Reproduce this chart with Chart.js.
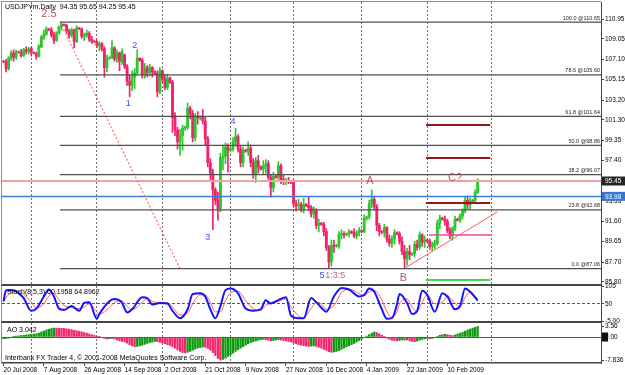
<!DOCTYPE html>
<html>
<head>
<meta charset="utf-8">
<script src="https://cdn.jsdelivr.net/npm/chart.js@4.4.1/dist/chart.umd.min.js"></script>
<style>
  html, body { margin: 0; padding: 0; background: #ffffff; }
  #wrap { position: relative; width: 625px; height: 375px; overflow: hidden; }
  #wrap canvas { position: absolute; left: 0; top: 0; }
</style>
</head>
<body>
<div id="wrap">
  <canvas id="main" width="625" height="375"></canvas>
  <canvas id="stoch" width="625" height="375"></canvas>
  <canvas id="ao" width="625" height="375"></canvas>
</div>
<script>
// daily bars, 20 Jul 2008 .. 24 Feb 2009 (index = bar number)
const opens = [106.90,106.85,106.20,107.20,107.70,107.30,107.80,107.75,107.45,108.00,
  107.85,108.10,107.75,107.65,107.40,108.30,109.20,109.50,110.00,109.90,
  109.40,108.90,109.60,110.20,110.45,110.35,109.80,109.40,109.90,108.80,
  110.10,110.00,109.30,109.40,109.60,109.00,108.80,108.75,108.40,108.60,
  108.10,106.30,107.20,107.25,108.20,107.10,107.70,106.90,107.50,106.40,
  105.00,104.60,105.40,105.80,107.20,107.00,105.60,106.30,105.80,106.30,
  105.90,105.70,104.00,106.00,105.20,104.40,105.30,104.90,101.60,100.30,
  99.20,99.80,100.50,100.60,102.40,101.90,99.60,101.60,101.50,101.60,
  101.20,99.50,97.20,96.20,94.60,93.60,92.80,97.70,97.80,98.70,
  98.40,98.50,99.20,99.70,98.50,97.20,98.40,98.30,98.60,97.20,
  96.10,97.40,96.80,96.60,96.90,97.10,95.80,94.80,95.90,95.80,
  96.90,95.60,95.40,95.50,95.40,95.30,93.30,93.10,93.20,92.80,
  93.20,93.10,92.90,92.30,92.60,91.20,91.40,91.30,90.60,89.10,
  87.70,89.30,89.20,89.30,90.30,90.40,90.30,90.40,90.60,90.50,
  90.20,90.50,90.70,90.60,91.90,92.00,93.30,93.70,93.00,91.20,
  90.60,90.55,91.00,89.90,89.50,89.90,90.50,90.40,89.70,88.70,
  88.00,88.70,88.40,88.50,89.40,89.10,90.30,89.60,89.80,89.70,
  89.20,89.30,89.50,91.40,91.90,91.80,91.60,90.70,90.20,90.90,
  91.80,91.70,92.10,92.60,93.60,93.20,93.50,93.60,94.35];
const highs = [107.00,107.10,107.35,107.90,108.00,107.95,107.90,108.05,108.15,108.30,
  108.25,108.25,107.80,107.80,108.50,109.40,109.90,110.20,110.05,110.15,
  109.70,109.75,110.30,110.65,110.50,110.45,110.00,110.10,110.00,110.30,
  110.15,110.10,109.60,109.90,109.75,109.30,108.90,108.95,108.80,108.70,
  108.30,107.50,107.35,108.90,108.30,108.00,107.80,108.10,107.60,106.60,
  105.60,106.00,106.20,108.00,107.25,107.20,106.70,106.50,106.60,106.40,
  106.00,106.00,106.30,106.10,105.60,105.70,105.40,105.10,102.00,100.60,
  100.40,100.80,100.70,102.90,102.60,102.20,101.90,102.10,101.70,102.30,
  101.60,99.70,97.60,96.60,94.80,94.40,98.10,98.90,99.10,99.00,
  98.60,99.60,100.50,99.90,98.80,98.70,98.50,99.20,98.90,97.60,
  97.70,97.90,96.90,97.40,97.50,97.40,96.00,96.30,96.10,97.30,
  97.10,96.00,95.70,95.80,95.50,95.50,93.60,93.70,93.40,93.80,
  93.30,93.90,93.10,93.00,92.80,91.80,91.50,91.50,90.90,89.30,
  89.80,89.80,89.40,90.60,90.80,90.60,90.50,90.80,90.70,90.90,
  90.70,91.00,90.80,92.20,92.10,93.60,94.60,94.00,93.20,91.40,
  90.70,91.30,91.10,90.30,90.20,90.80,90.60,90.60,90.10,89.30,
  89.00,89.30,88.60,89.70,89.80,90.60,90.40,90.20,89.90,89.90,
  89.60,89.80,91.70,92.20,92.00,92.10,91.80,91.00,91.10,92.10,
  91.90,92.30,92.80,93.90,94.00,93.80,93.70,94.60,95.65];
const lows = [106.80,105.90,106.05,107.00,106.90,107.10,107.70,107.30,107.35,107.60,
  107.60,107.40,107.60,107.10,107.30,108.20,109.00,109.40,109.85,109.20,
  108.60,108.80,109.50,109.90,110.30,109.60,109.10,109.20,108.20,108.70,
  109.95,109.10,108.90,109.20,108.80,108.60,108.70,108.20,107.90,107.90,
  105.40,105.90,107.10,107.15,106.90,106.80,106.00,106.60,106.20,104.60,
  103.50,104.10,104.30,105.60,106.90,105.30,105.30,105.40,105.50,105.40,
  105.60,103.50,103.80,104.90,104.20,104.20,104.80,100.10,99.80,98.50,
  97.90,98.40,100.30,100.40,101.40,99.20,99.30,100.90,101.30,100.90,
  98.90,96.80,95.60,90.80,93.20,91.70,92.50,96.50,97.10,96.30,
  98.20,98.30,98.80,98.20,96.80,96.80,98.20,97.90,96.80,95.70,
  95.30,96.20,96.50,96.10,96.20,95.60,93.90,94.40,95.70,95.60,
  95.20,95.10,95.10,95.20,95.20,93.00,92.60,92.80,92.50,92.40,
  93.00,92.60,92.00,91.90,90.90,90.60,91.20,90.20,88.80,87.10,
  87.30,88.60,89.10,89.00,89.90,90.00,90.20,90.10,90.40,90.00,
  89.90,90.20,90.50,90.50,91.70,91.80,92.90,92.70,90.70,90.20,
  90.40,90.10,89.60,89.20,89.10,89.40,90.30,89.40,88.40,87.10,
  87.40,87.90,88.30,88.20,88.80,88.90,89.20,89.10,89.60,88.90,
  88.80,89.00,89.30,90.90,91.70,91.20,90.50,89.90,89.80,90.70,
  91.60,91.50,91.80,92.40,92.80,92.70,93.40,93.30,94.25];
const closes = [106.85,106.20,107.20,107.70,107.30,107.80,107.75,107.45,108.00,107.85,
  108.10,107.75,107.65,107.40,108.30,109.20,109.50,110.00,109.90,109.40,
  108.90,109.60,110.20,110.45,110.35,109.80,109.40,109.90,108.80,110.10,
  110.00,109.30,109.40,109.60,109.00,108.80,108.75,108.40,108.60,108.10,
  106.30,107.20,107.25,108.20,107.10,107.70,106.90,107.80,106.40,105.00,
  104.60,105.40,105.80,107.20,107.00,105.60,106.30,105.80,106.30,105.90,
  105.70,104.00,106.00,105.20,104.40,105.30,104.90,101.50,100.30,99.20,
  99.80,100.50,100.60,102.40,101.90,99.60,101.60,101.50,101.60,101.20,
  99.50,97.20,96.20,94.60,93.60,92.80,97.70,97.80,98.70,98.40,
  98.50,99.20,99.70,98.50,97.20,98.40,98.30,98.60,97.20,96.10,
  97.40,96.80,96.60,96.90,97.10,95.80,94.80,95.90,95.80,96.90,
  95.60,95.40,95.50,95.40,95.30,93.30,93.10,93.20,92.80,93.20,
  93.10,92.90,92.30,92.60,91.20,91.40,91.30,90.60,89.10,87.70,
  89.30,89.20,89.30,90.30,90.40,90.30,90.40,90.60,90.50,90.20,
  90.50,90.70,90.60,91.90,92.00,93.30,93.70,93.00,91.20,90.60,
  90.55,91.00,89.90,89.50,89.90,90.50,90.40,89.70,88.70,88.00,
  88.70,88.40,88.50,89.40,89.10,90.30,89.60,89.80,89.70,89.20,
  89.30,89.50,91.40,91.90,91.80,91.60,90.70,90.20,90.90,91.80,
  91.70,92.10,92.60,93.60,93.20,93.50,93.60,94.35,95.45];

// time axis
const tickIndex = [0, 16, 32, 48, 64, 80, 96, 112, 128, 144, 160, 176];
const tickLabels = ['20 Jul 2008', '7 Aug 2008', '26 Aug 2008', '14 Sep 2008', '2 Oct 2008', '21 Oct 2008',
  '9 Nov 2008', '27 Nov 2008', '16 Dec 2008', '4 Jan 2009', '22 Jan 2009', '10 Feb 2009'];
const monthStarts = [11, 37, 63, 90, 115, 142, 168, 193.5];
const priceTicks = [110.95, 109.05, 107.10, 105.15, 103.20, 101.30, 99.35, 97.40, 95.45, 93.55, 91.60, 89.65, 87.70, 85.80];

// chart objects
const fibLevels = [110.65, 105.60, 101.64, 98.86, 96.07, 92.68, 87.06];
const fibNames = ['100.0', '78.6', '61.8', '50.0', '38.2', '23.8', '0.0'];
const fibFrom = [22.4, 110.65];
const fibTo = [70, 87.06];
const bidPrice = 95.45;
const hLinePrice = 93.98;
const targetLevels = [100.81, 97.65, 93.34];
const targetSpan = [167.5, 193];
const magentaLevel = 90.28;
const magentaSpan = [168.7, 193.7];
const greenLevel = 85.97;
const trendFrom = [158.8, 87.08];
const trendTo = [195.7, 92.48];

const waveText = ['2.5', '2', '1', '3', '4', '5', '1:3:5', 'A', 'B', 'C?'];
const waveIdx = [18, 52, 49.5, 81, 91, 126.3, 131.5, 145.3, 158.6, 179];
const wavePrice = [111.43, 108.37, 102.9, 90.09, 101.1, 86.45, 86.45, 95.45, 86.17, 95.74];
const waveKind = ['big', 'num', 'num', 'num', 'num', 'num', 'ratio', 'big', 'big', 'big'];

// stochastic (8,5,3)
const stochIdx = [0,1,4,6,8,11,13,16,18,20,22,24,27,30,32,34,37,38,42,44,
  47,49,51,55,57,59,62,65,67,70,73,75,78,80,82,84,86,88,90,93,
  96,99,102,104,106,108,112,114,117,119,122,124,126,128,131,134,137,141,143,145,
  147,150,152,154,156,157,160,162,164,166,168,171,174,176,179,181,183,185,188];
const stochMain = [58,93,93,83,68,28,35,73,95,73,35,31,43,28,53,55,3,18,58,65,
  53,23,33,71,68,48,53,51,28,5,33,81,83,73,33,5,43,93,98,83,
  35,28,33,61,51,58,71,13,5,5,68,55,38,25,73,100,95,73,78,98,
  88,33,3,5,48,81,53,18,28,91,78,25,83,73,33,43,98,88,60.2];
const stochSignal = [55,70,88,90,80,55,38,50,75,82,62,45,38,35,40,50,25,18,38,55,
  60,42,32,55,66,58,52,53,40,15,20,50,78,78,55,25,25,60,85,90,
  60,35,30,45,52,55,65,40,12,6,35,55,50,32,45,85,96,82,76,88,
  92,62,25,8,25,50,65,40,25,55,78,50,55,75,52,40,70,88,64.9];
const stochTicks = [105, 80, 50, 20, -5];
const stochLevels = [80, 50, 20];

// awesome oscillator
const aoValues = [-0.6,-0.5,-0.4,-0.2,0.1,0.3,0.4,0.5,0.6,0.7,
  0.8,0.9,1.0,1.1,1.35,1.7,2.05,2.4,2.65,2.9,
  3.05,3.0,2.98,2.95,2.9,2.8,2.65,2.5,2.3,2.15,
  1.95,1.75,1.5,1.3,1.05,0.8,0.55,0.3,0.05,-0.2,
  -0.5,-0.7,-0.6,-0.5,-0.7,-1.0,-1.3,-1.5,-1.7,-2.1,
  -2.6,-3.0,-3.3,-3.2,-3.0,-2.8,-2.5,-2.2,-1.9,-1.7,
  -1.5,-1.6,-1.8,-2.0,-2.3,-2.6,-2.9,-3.3,-3.8,-4.4,
  -4.9,-5.3,-5.4,-5.2,-4.9,-4.5,-4.1,-3.8,-3.6,-3.4,
  -3.5,-3.9,-4.5,-5.3,-6.3,-7.3,-7.836,-7.6,-7.2,-6.6,
  -6.1,-5.5,-4.9,-4.3,-3.8,-3.3,-2.8,-2.3,-1.9,-1.6,
  -1.4,-1.1,-0.9,-0.8,-0.9,-1.1,-1.3,-1.2,-1.0,-0.9,
  -1.0,-1.2,-1.3,-1.5,-1.7,-2.0,-2.3,-2.6,-2.8,-3.0,
  -3.1,-3.2,-3.1,-3.0,-3.2,-3.5,-3.8,-4.2,-4.6,-5.0,
  -5.2,-5.1,-4.9,-4.6,-4.2,-3.8,-3.4,-3.0,-2.6,-2.2,
  -1.7,-1.2,-0.7,-0.2,0.3,0.8,1.3,1.7,1.5,1.1,
  0.6,0.1,-0.4,-0.8,-1.1,-1.2,-1.3,-1.2,-1.0,-1.1,
  -1.0,-1.3,-1.5,-1.6,-1.4,-1.1,-0.8,-0.7,-0.5,-0.6,
  -0.5,-0.2,0.2,0.6,0.8,0.9,0.8,0.6,0.5,0.7,
  1.0,1.3,1.6,2.0,2.4,2.7,3.0,3.3,3.56];
const aoTicks = [3.56, 0, -7.836];

// ---- drawing ----
const FONT = "'Liberation Sans', Arial, sans-serif";
Chart.defaults.font.family = FONT;
Chart.defaults.font.size = 7;
Chart.defaults.color = '#000';

const XMIN = -0.6, XMAX = 236.9;
const BULL = '#2bc72b', BEAR = '#f2216b';
const AXIS = '#454545';

const noPad = s => { s.paddingTop = 0; s.paddingBottom = 0; s.paddingLeft = 0; s.paddingRight = 0; };

function monthGrid(borderWidth) {
  return {
    type: 'linear', min: XMIN, max: XMAX, offset: false, bounds: 'data',
    afterBuildTicks: s => { s.ticks = monthStarts.map(v => ({value: v})); },
    ticks: {display: false},
    grid: {color: '#6e6e6e', drawTicks: false, lineWidth: 1, offset: false},
    border: {display: borderWidth > 0, color: AXIS, width: borderWidth || 1, dash: [2, 2]},
    afterFit: s => { s.height = 0; noPad(s); }
  };
}

function rightAxis(min, max, values, fmt, grid, dash) {
  return {
    position: 'right', min: min, max: max,
    afterBuildTicks: s => { s.ticks = values.map(v => ({value: v})); },
    ticks: {padding: 1, font: {size: 6.5}, color: '#000', callback: fmt},
    grid: Object.assign({drawOnChartArea: false, tickLength: 3, tickColor: AXIS}, grid || {}),
    border: {display: true, color: AXIS, width: 1, dash: dash || []},
    afterFit: s => { s.width = 24; noPad(s); }
  };
}

function txt(ctx, s, x, y, font, color, align) {
  ctx.save();
  ctx.font = font;
  ctx.fillStyle = color;
  ctx.textAlign = align || 'left';
  ctx.textBaseline = 'middle';
  ctx.fillText(s, x, y);
  ctx.restore();
}

function leftEdge(ctx, a) {
  ctx.save();
  ctx.strokeStyle = '#8c8c8c';
  ctx.lineWidth = 1;
  ctx.beginPath();
  ctx.moveTo(a.left - 0.5, a.top);
  ctx.lineTo(a.left - 0.5, a.bottom);
  ctx.stroke();
  ctx.restore();
}

function seg(x1, y1, x2, y2, color, width, dash) {
  return {
    type: 'line', data: [{x: x1, y: y1}, {x: x2, y: y2}],
    borderColor: color, borderWidth: width, borderDash: dash || [],
    pointRadius: 0, fill: false, tension: 0, order: 0
  };
}

const candleColor = c => closes[c.dataIndex] >= opens[c.dataIndex] ? BULL : BEAR;

const objectLines = [];
fibLevels.forEach(p => objectLines.push(seg(fibFrom[0], p, XMAX, p, '#505050', 1.2)));
objectLines.push(seg(fibFrom[0], fibFrom[1], fibTo[0], fibTo[1], '#ff6a6a', 1.2, [2, 2]));
objectLines.push(seg(XMIN, bidPrice, XMAX, bidPrice, '#f4a3a3', 2));
objectLines.push(seg(XMIN, hLinePrice, XMAX, hLinePrice, '#3a7fdc', 1.5));
targetLevels.forEach(p => objectLines.push(seg(targetSpan[0], p, targetSpan[1], p, '#981818', 2)));
objectLines.push(seg(magentaSpan[0], magentaLevel, magentaSpan[1], magentaLevel, '#ff3fa0', 1.5));
objectLines.push(seg(targetSpan[0], greenLevel, targetSpan[1], greenLevel, '#46d846', 2));
objectLines.push(seg(trendFrom[0], trendFrom[1], trendTo[0], trendTo[1], '#ff5a5a', 1));

const mainText = {
  id: 'mainText',
  afterDraw(chart) {
    const {ctx, chartArea: a, scales: {x, y}} = chart;
    leftEdge(ctx, a);
    ctx.save();
    ctx.strokeStyle = '#8c8c8c';
    ctx.beginPath(); ctx.moveTo(a.left - 1, a.top - 0.5); ctx.lineTo(a.right, a.top - 0.5); ctx.stroke();
    ctx.restore();
    txt(ctx, 'USDJPYm,Daily  94.35 95.65 94.25 95.45', a.left + 3, a.top + 5, '7px ' + FONT, '#000');
    fibLevels.forEach((p, k) => {
      txt(ctx, fibNames[k] + ' @' + p.toFixed(2), a.right - 1, y.getPixelForValue(p) - 4, '5.5px ' + FONT, '#222', 'right');
    });
    waveText.forEach((s, k) => {
      const kind = waveKind[k];
      const font = kind === 'big' ? '11px ' + FONT : '9px ' + FONT;
      const color = kind === 'num' ? '#4646ee' : (kind === 'ratio' ? '#b07070' : '#b45a5a');
      txt(ctx, s, x.getPixelForValue(waveIdx[k]), y.getPixelForValue(wavePrice[k]), font, color, 'center');
    });
    [[bidPrice, '#262626'], [hLinePrice, '#3577d4']].forEach(([p, bg]) => {
      const py = y.getPixelForValue(p);
      ctx.save();
      ctx.fillStyle = bg;
      ctx.fillRect(a.right + 1, py - 4.5, 23, 9);
      ctx.restore();
      txt(ctx, p.toFixed(2), a.right + 4, py + 0.5, '6.5px ' + FONT, '#fff');
    });
  }
};

new Chart(document.getElementById('main'), {
  type: 'bar',
  data: {
    datasets: [
      {
        label: 'wick', data: highs.map((h, i) => ({x: i, y: [lows[i], h]})),
        barThickness: 1, grouped: false, order: 2, borderWidth: 0,
        backgroundColor: candleColor
      },
      {
        label: 'body', data: opens.map((o, i) => ({x: i, y: [o, closes[i]]})),
        barThickness: 2.2, grouped: false, order: 1, borderWidth: 0,
        backgroundColor: candleColor
      },
      ...objectLines
    ]
  },
  options: {
    responsive: false, animation: false, events: [],
    layout: {padding: {left: 2, top: 2, right: 0, bottom: 90}},
    plugins: {legend: {display: false}, tooltip: {enabled: false}},
    scales: {
      x: monthGrid(2),
      y: rightAxis(85.5, 112.58, priceTicks, v => v.toFixed(2))
    }
  },
  plugins: [mainText]
});

const stochText = {
  id: 'stochText',
  afterDraw(chart) {
    const {ctx, chartArea: a} = chart;
    leftEdge(ctx, a);
    txt(ctx, 'Stoch(8,5,3) 60.1958 64.8962', a.left + 5, a.top + 6, '7px ' + FONT, '#000');
  }
};

new Chart(document.getElementById('stoch'), {
  type: 'line',
  data: {
    datasets: [
      {
        label: 'main', data: stochIdx.map((v, k) => ({x: v, y: stochMain[k]})),
        borderColor: '#1414ff', borderWidth: 2, pointRadius: 0, cubicInterpolationMode: 'monotone'
      },
      {
        label: 'signal', data: stochIdx.map((v, k) => ({x: v, y: stochSignal[k]})),
        borderColor: '#ff5a5a', borderWidth: 1, pointRadius: 0, cubicInterpolationMode: 'monotone'
      }
    ]
  },
  options: {
    responsive: false, animation: false, events: [],
    layout: {padding: {left: 2, top: 286, right: 0, bottom: 53}},
    plugins: {legend: {display: false}, tooltip: {enabled: false}},
    scales: {
      x: monthGrid(2),
      y: rightAxis(-7, 106, stochTicks, v => v === -5 ? '-5.00' : String(v), {
        drawOnChartArea: true,
        color: c => stochLevels.includes(c.tick.value) ? '#5a5a5a' : 'rgba(0,0,0,0)'
      }, [3, 2])
    }
  },
  plugins: [stochText]
});

const aoText = {
  id: 'aoText',
  afterDraw(chart) {
    const {ctx, chartArea: a, scales: {y}} = chart;
    leftEdge(ctx, a);
    txt(ctx, 'AO 3.042', a.left + 5, a.top + 7, '7px ' + FONT, '#000');
    txt(ctx, 'Interbank FX Trader 4, \u00a9 2001-2008 MetaQuotes Software Corp.', a.left + 3, a.bottom - 5, '7px ' + FONT, '#000');
    const zy = y.getPixelForValue(0);
    ctx.save();
    ctx.fillStyle = '#111';
    ctx.fillRect(a.right + 1, zy - 4.5, 6, 9);
    ctx.restore();
  }
};

new Chart(document.getElementById('ao'), {
  type: 'bar',
  data: {
    datasets: [{
      label: 'AO', data: aoValues.map((v, i) => ({x: i, y: v})),
      barThickness: 1.6, grouped: false, borderWidth: 0,
      backgroundColor: c => (c.dataIndex === 0 || aoValues[c.dataIndex] >= aoValues[c.dataIndex - 1]) ? '#0e9a0e' : '#f2286e'
    }]
  },
  options: {
    responsive: false, animation: false, events: [],
    layout: {padding: {left: 2, top: 323, right: 0, bottom: 0}},
    plugins: {legend: {display: false}, tooltip: {enabled: false}},
    scales: {
      x: monthGrid(0),
      xl: {
        type: 'linear', position: 'bottom', min: XMIN, max: XMAX, offset: false, bounds: 'data',
        afterBuildTicks: s => { s.ticks = tickIndex.map(v => ({value: v})); },
        ticks: {
          align: 'start', padding: 0, maxRotation: 0, autoSkip: false,
          font: {size: 6.5}, color: '#000',
          callback: (v, k) => tickLabels[k]
        },
        grid: {drawOnChartArea: false, tickLength: 3, tickColor: AXIS, offset: false},
        border: {display: true, color: AXIS, width: 1.5},
        afterFit: s => { s.height = 12; noPad(s); }
      },
      y: rightAxis(-8.84, 4.76, aoTicks, v => v === 0 ? '0.00' : String(v), {
        drawOnChartArea: true,
        color: c => c.tick.value === 0 ? '#555' : 'rgba(0,0,0,0)'
      })
    }
  },
  plugins: [aoText]
});
</script>
</body>
</html>
